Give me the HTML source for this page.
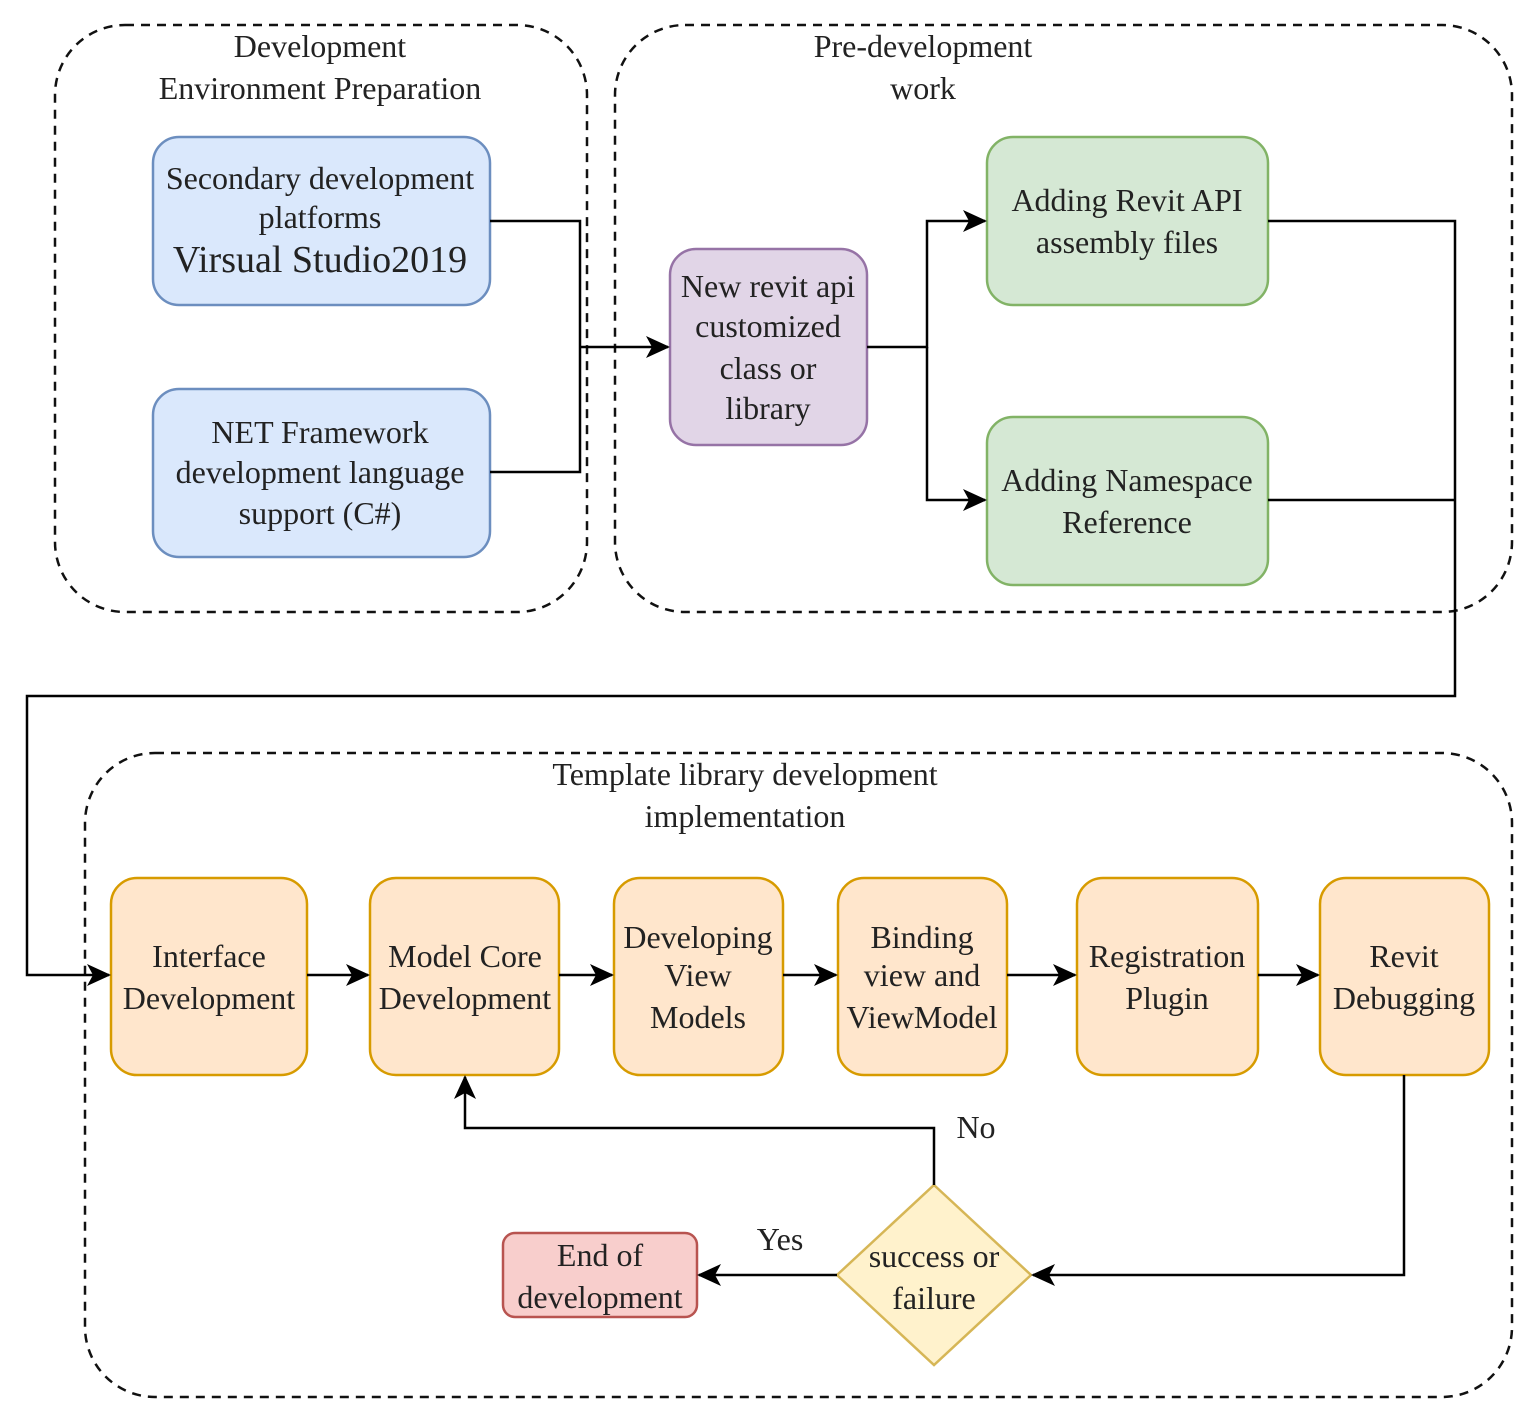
<!DOCTYPE html>
<html><head><meta charset="utf-8"><style>
html,body{margin:0;padding:0;background:#fff;}
svg{display:block;}
text{font-family:"Liberation Serif",serif;font-size:32px;fill:#222;text-anchor:middle;}
</style></head><body>
<svg width="1537" height="1418" viewBox="0 0 1537 1418" xmlns="http://www.w3.org/2000/svg">
<defs>
<marker id="b" markerWidth="24" markerHeight="22" refX="22" refY="11" orient="auto" markerUnits="userSpaceOnUse" viewBox="0 0 24 22">
<path d="M0,0 L24,11 L0,22 L6,11 Z" fill="#000"/></marker>
</defs>
<g fill="none" stroke="#111" stroke-width="2.5" stroke-dasharray="9,7">
<rect x="55" y="25" width="532" height="587" rx="70"/>
<rect x="615" y="25" width="897" height="587" rx="70"/>
<rect x="85" y="753" width="1427" height="644" rx="70"/>
</g>
<text x="320" y="57">Development</text>
<text x="320" y="99">Environment Preparation</text>
<text x="923" y="57">Pre-development</text>
<text x="923" y="99">work</text>
<text x="745" y="785">Template library development</text>
<text x="745" y="827">implementation</text>

<g stroke-width="2.5">
<rect x="153" y="137" width="337" height="168" rx="26" fill="#dae8fc" stroke="#6c8ebf"/>
<rect x="153" y="389" width="337" height="168" rx="26" fill="#dae8fc" stroke="#6c8ebf"/>
<rect x="670" y="249" width="197" height="196" rx="26" fill="#e1d5e7" stroke="#9673a6"/>
<rect x="987" y="137" width="281" height="168" rx="26" fill="#d5e8d4" stroke="#82b366"/>
<rect x="987" y="417" width="281" height="168" rx="26" fill="#d5e8d4" stroke="#82b366"/>
<g fill="#ffe6cc" stroke="#d79b00">
<rect x="111" y="878" width="196" height="197" rx="26"/>
<rect x="370" y="878" width="189" height="197" rx="26"/>
<rect x="614" y="878" width="169" height="197" rx="26"/>
<rect x="838" y="878" width="169" height="197" rx="26"/>
<rect x="1077" y="878" width="181" height="197" rx="26"/>
<rect x="1320" y="878" width="169" height="197" rx="26"/>
</g>
<rect x="503" y="1233" width="194" height="84" rx="12" fill="#f8cecc" stroke="#b85450"/>
<path d="M934,1185 L1031,1275 L934,1365 L837,1275 Z" fill="#fff2cc" stroke="#d6b656"/>
</g>

<g fill="none" stroke="#000" stroke-width="2.5">
<path d="M490,221 H580 V472 H490"/>
<path d="M580,347 H668" marker-end="url(#b)"/>
<path d="M867,347 H927 V221 H985" marker-end="url(#b)"/>
<path d="M927,347 V500 H985" marker-end="url(#b)"/>
<path d="M1268,221 H1455 V696 H27 V975 H109" marker-end="url(#b)"/>
<path d="M1268,500 H1455"/>
<path d="M307,975 H368" marker-end="url(#b)"/>
<path d="M559,975 H612" marker-end="url(#b)"/>
<path d="M783,975 H836" marker-end="url(#b)"/>
<path d="M1007,975 H1075" marker-end="url(#b)"/>
<path d="M1258,975 H1318" marker-end="url(#b)"/>
<path d="M1404,1075 V1275 H1033" marker-end="url(#b)"/>
<path d="M837,1275 H699" marker-end="url(#b)"/>
<path d="M934,1185 V1128 H465 V1077" marker-end="url(#b)"/>
</g>

<text x="320" y="189">Secondary development</text>
<text x="320" y="228">platforms</text>
<text x="320" y="272" style="font-size:38px">Virsual Studio2019</text>
<text x="320" y="443">NET Framework</text>
<text x="320" y="483">development language</text>
<text x="320" y="524">support (C#)</text>
<text x="768" y="297">New revit api</text>
<text x="768" y="337">customized</text>
<text x="768" y="379">class or</text>
<text x="768" y="419">library</text>
<text x="1127" y="211">Adding Revit API</text>
<text x="1127" y="253">assembly files</text>
<text x="1127" y="491">Adding Namespace</text>
<text x="1127" y="533">Reference</text>
<text x="209" y="967">Interface</text>
<text x="209" y="1009">Development</text>
<text x="465" y="967">Model Core</text>
<text x="465" y="1009">Development</text>
<text x="698" y="948">Developing</text>
<text x="698" y="986">View</text>
<text x="698" y="1028">Models</text>
<text x="922" y="948">Binding</text>
<text x="922" y="986">view and</text>
<text x="922" y="1028">ViewModel</text>
<text x="1167" y="967">Registration</text>
<text x="1167" y="1009">Plugin</text>
<text x="1404" y="967">Revit</text>
<text x="1404" y="1009">Debugging</text>
<text x="600" y="1266">End of</text>
<text x="600" y="1308">development</text>
<text x="934" y="1267">success or</text>
<text x="934" y="1309">failure</text>
<text x="780" y="1250">Yes</text>
<text x="976" y="1138">No</text>
</svg>
</body></html>
